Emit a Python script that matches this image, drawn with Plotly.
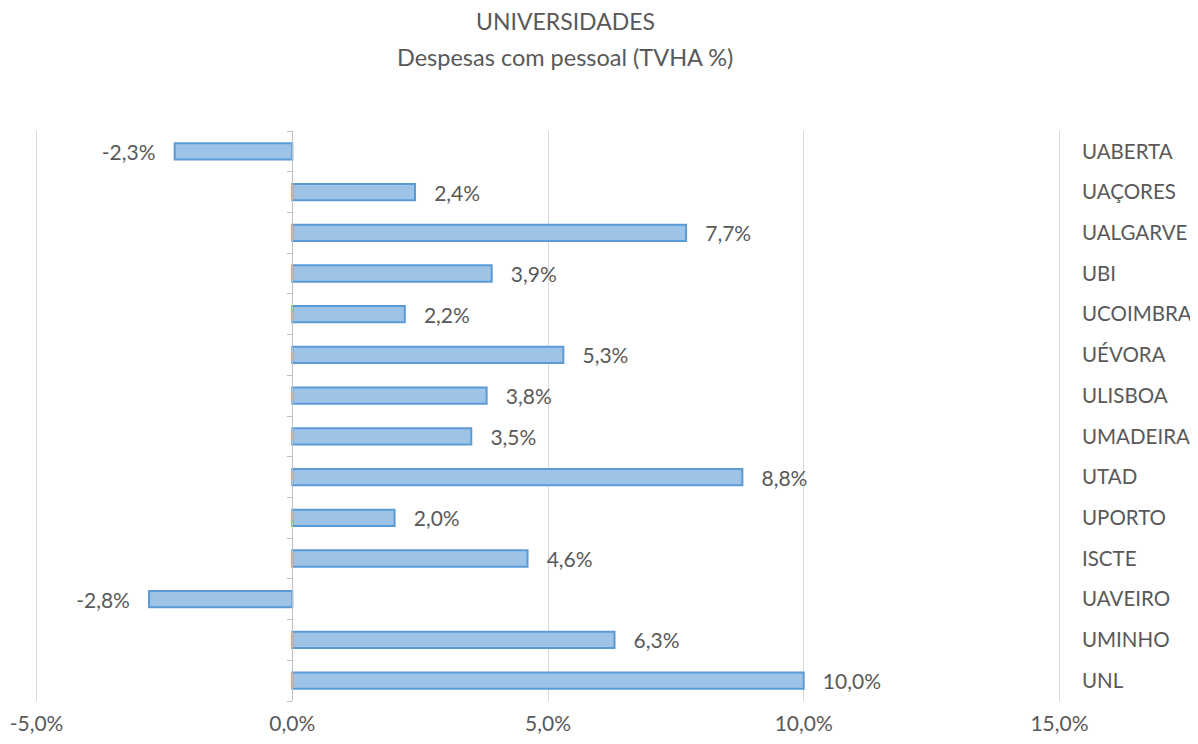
import plotly.graph_objects as go

# Data
universidades = ['UABERTA', 'UAÇORES', 'UALGARVE', 'UBI', 'UCOIMBRA', 'UÉVORA', 'ULISBOA',
                 'UMADEIRA', 'UTAD', 'UPORTO', 'ISCTE', 'UAVEIRO', 'UMINHO', 'UNL']
tvha = [-2.3, 2.4, 7.7, 3.9, 2.2, 5.3, 3.8, 3.5, 8.8, 2.0, 4.6, -2.8, 6.3, 10.0]
x_ticks = [-5, 0, 5, 10, 15]
x_ticktext = ['-5,0%', '0,0%', '5,0%', '10,0%', '15,0%']

FONT = 'Lato'
GREY_TXT = '#595959'
GRID = '#d9d9d9'
FS = 21
PAD = 0.05  # small range padding so the outer gridlines are drawn

pos = list(range(len(universidades)))
n = len(universidades)

# Excel-style labels: comma decimal, a bit of space from bar end
labels = []
for v in tvha:
    s = f"{v:.1f}%".replace('.', ',')
    labels.append(s + '   ' if v < 0 else '   ' + s)

fig = go.Figure()
fig.add_trace(go.Bar(
    x=tvha,
    y=pos,
    orientation='h',
    width=0.4,
    marker=dict(color='#9dc3e6', line=dict(color='#5b9bd5', width=2)),
    text=labels,
    textposition='outside',
    constraintext='none',
    textfont=dict(family=FONT, size=FS, color=GREY_TXT),
    cliponaxis=False,
    hoverinfo='skip',
    showlegend=False,
))
# empty trace so the 0% axis (yaxis2) gets drawn
fig.add_trace(go.Scatter(x=[None], y=[None], yaxis='y2', mode='markers',
                         showlegend=False, hoverinfo='skip'))

# page body adds an 8px offset, so the figure is 8px smaller and margins shifted
fig.update_layout(
    width=1190,
    height=736,
    margin=dict(l=26, r=136, t=123, b=43, autoexpand=False),
    paper_bgcolor='white',
    plot_bgcolor='white',
    font=dict(family=FONT, size=FS, color=GREY_TXT),
    xaxis=dict(
        range=[x_ticks[0] - PAD, x_ticks[-1] + PAD],
        tickvals=x_ticks,
        ticktext=x_ticktext,
        showgrid=True,
        gridcolor=GRID,
        gridwidth=1,
        zeroline=False,
        showline=False,
        ticks='outside',
        ticklen=4,
        tickcolor='rgba(0,0,0,0)',
        automargin=False,
        tickfont=dict(family=FONT, size=FS, color=GREY_TXT),
    ),
    yaxis=dict(
        range=[n - 0.5, -0.5],
        side='right',
        tickvals=pos,
        ticktext=universidades,
        showgrid=False,
        zeroline=False,
        showline=False,
        ticks='',
        ticklabelstandoff=19,
        automargin=False,
        tickfont=dict(family=FONT, size=20.5, color=GREY_TXT),
    ),
    # axis line at 0% with tick marks between categories
    yaxis2=dict(
        overlaying='y',
        anchor='free',
        position=(0 - x_ticks[0] + PAD) / (x_ticks[-1] - x_ticks[0] + 2 * PAD),
        side='left',
        range=[n - 0.5, -0.5],
        tickvals=[p - 0.5 for p in pos] + [n - 0.5],
        ticks='outside',
        ticklen=5,
        tickcolor='#bfbfbf',
        showline=True,
        linecolor='#bfbfbf',
        linewidth=1,
        showticklabels=False,
        showgrid=False,
        zeroline=False,
        automargin=False,
    ),
)

fig.add_annotation(text='UNIVERSIDADES', xref='paper', yref='paper', x=0.5166, y=1.193,
                   showarrow=False, xanchor='center', yanchor='middle',
                   font=dict(family=FONT, size=23, color=GREY_TXT))
fig.add_annotation(text='Despesas com pessoal (TVHA %)', xref='paper', yref='paper', x=0.5166, y=1.130,
                   showarrow=False, xanchor='center', yanchor='middle',
                   font=dict(family=FONT, size=23.5, color=GREY_TXT))

fig.write_html("out.html")
